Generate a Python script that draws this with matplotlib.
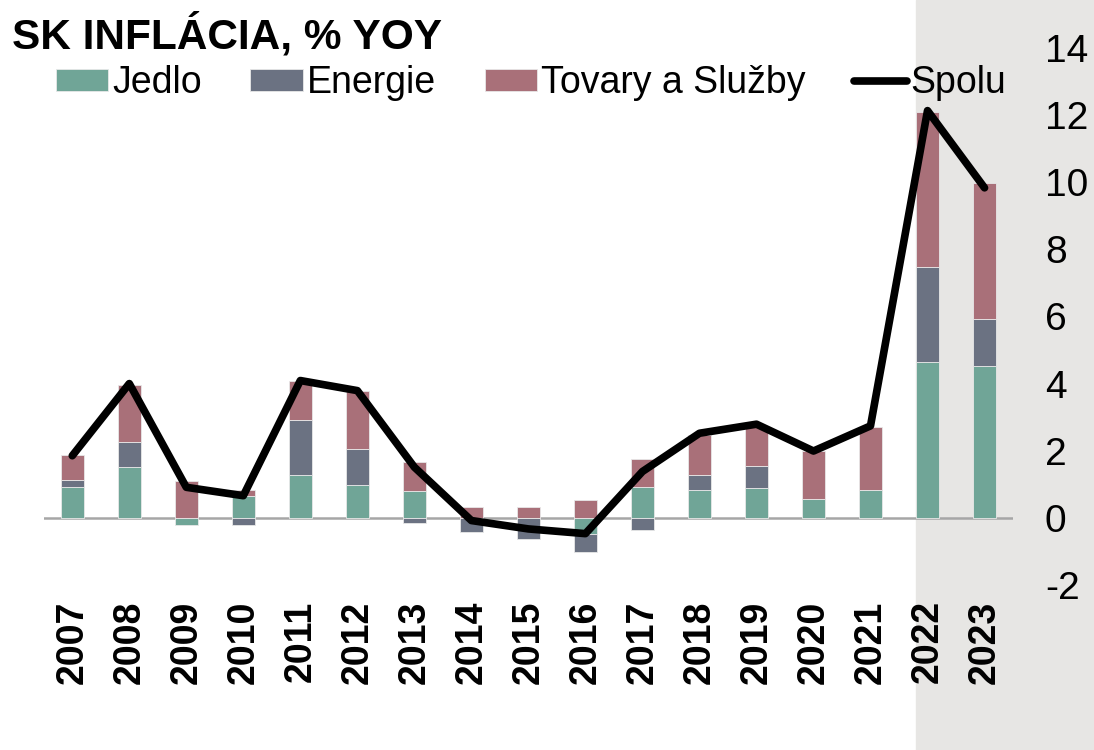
import numpy as np
import matplotlib.pyplot as plt
from matplotlib.patches import Rectangle

plt.rcParams['font.family'] = ['Liberation Sans', 'DejaVu Sans']
plt.rcParams['axes.unicode_minus'] = False

years = [str(y) for y in range(2007, 2024)]
jedlo = [0.91, 1.50, -0.20, 0.65, 1.29, 0.99, 0.79, 0.0, 0.0, -0.49,
         0.91, 0.83, 0.89, 0.56, 0.83, 4.64, 4.52]
energie = [0.23, 0.75, 0.0, -0.20, 1.62, 1.06, -0.16, -0.42, -0.63, -0.52,
           -0.37, 0.44, 0.65, 0.0, 0.0, 2.84, 1.39]
tovary = [0.72, 1.71, 1.10, 0.19, 1.16, 1.73, 0.86, 0.31, 0.31, 0.53,
          0.83, 1.21, 1.20, 1.44, 1.89, 4.61, 4.05]
spolu = [1.85, 4.00, 0.91, 0.66, 4.09, 3.79, 1.51, -0.08, -0.33, -0.47,
         1.38, 2.52, 2.79, 1.99, 2.74, 12.13, 9.83]

names = ["Jedlo", "Energie", "Tovary a Služby"]
colors = ["#70A597", "#6B7282", "#A97079"]

fig = plt.figure(figsize=(10.94, 7.5), dpi=100)
ax = fig.add_axes([0.040, 0.22, 0.886, 0.761])
ax.patch.set_alpha(0)

x = np.arange(len(years))
pos_bottom = np.zeros(len(years))
neg_bottom = np.zeros(len(years))
for vals, name, c in zip([jedlo, energie, tovary], names, colors):
    v = np.array(vals)
    bottom = np.where(v >= 0, pos_bottom, neg_bottom)
    ax.bar(x, v, 0.4, bottom=bottom, color=c, edgecolor="#e8e8e8",
           linewidth=0.6, label=name, zorder=2)
    pos_bottom += np.where(v >= 0, v, 0)
    neg_bottom += np.where(v < 0, v, 0)

ax.plot(x, spolu, color="black", linewidth=5.5, solid_capstyle="round",
        label="Spolu", zorder=3)

ax.set_xlim(-0.5, len(years) - 0.5)
ax.set_ylim(-2, 15)
ax.axhline(0, color="#a6a6a6", linewidth=1.8, zorder=1)
for s in ax.spines.values():
    s.set_visible(False)

ax.set_yticks(range(-2, 15, 2))
ax.yaxis.tick_right()
ax.tick_params(axis="y", length=0, pad=23, labelsize=28)
for lab in ax.get_yticklabels():
    lab.set_horizontalalignment("left")
ax.set_xticks(x)
ax.set_xticklabels(years, rotation=90, fontweight="bold", fontsize=27)
ax.tick_params(axis="x", length=0, pad=11)

# grey band behind the last two years
x0 = ax.transData.transform((14.8, 0))[0] / fig.bbox.width
fig.patches.append(Rectangle((x0, 0), 1 - x0, 1, transform=fig.transFigure,
                             color="#E7E6E4", zorder=-1))

fig.text(0.011, 0.935, "SK INFLÁCIA, % YOY", fontsize=30.5, fontweight="bold",
         va="baseline")
handles, labels = ax.get_legend_handles_labels()
order = [1, 2, 3, 0]
ax.legend([handles[i] for i in order], [labels[i] for i in order],
          loc="upper left", bbox_to_anchor=(0.051, 0.913),
          bbox_transform=fig.transFigure, ncol=4, frameon=False, fontsize=27,
          handlelength=1.4, handleheight=0.5, handletextpad=0.1,
          columnspacing=1.3, borderpad=0, borderaxespad=0)

fig.savefig("out.png", dpi=100)
